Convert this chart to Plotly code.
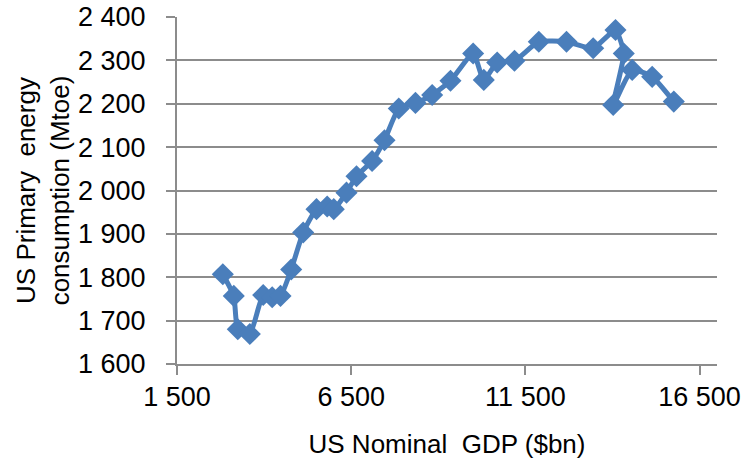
import plotly.graph_objects as go

# US nominal GDP ($bn) and primary energy consumption (Mtoe)
gdp = [2815, 3130, 3245, 3590, 3974, 4232, 4471, 4778, 5122, 5504, 5811, 6000,
       6365, 6652, 7100, 7456, 7866, 8345, 8824, 9350, 10001, 10306, 10690,
       11187, 11885, 12680, 13446, 14086, 14324, 14020, 14565, 15139, 15760]
energy = [1807, 1757, 1680, 1669, 1759, 1754, 1757, 1818, 1903, 1957, 1963, 1957,
          1995, 2033, 2068, 2116, 2189, 2202, 2220, 2253, 2316, 2255, 2295,
          2299, 2343, 2343, 2328, 2370, 2316, 2197, 2278, 2262, 2205]

x_ticks = [1500, 6500, 11500, 16500]
y_ticks = [1600, 1700, 1800, 1900, 2000, 2100, 2200, 2300, 2400]

color = "#4A7EBB"
grid = "#8C8C8C"
font = "Liberation Sans, Arial, sans-serif"

fig = go.Figure(go.Scatter(
    x=gdp, y=energy, mode="lines+markers",
    line=dict(color=color, width=5, shape="spline", smoothing=0.5),
    marker=dict(symbol="diamond", size=17, color=color),
    showlegend=False, cliponaxis=False,
))

fig.update_layout(
    width=748, height=459,
    margin=dict(l=177, r=31, t=17, b=95),
    paper_bgcolor="white", plot_bgcolor="white",
    separators=". ",
    font=dict(family=font, size=27, color="black"),
    xaxis=dict(
        range=[1500, 17000], tickvals=x_ticks, tickformat=",",
        automargin=False, ticklabeloverflow="allow",
        showgrid=False, zeroline=False,
        showline=True, linecolor=grid, linewidth=2,
        ticks="outside", ticklen=9, tickwidth=2, tickcolor=grid,
        ticklabelstandoff=-1,
        title=dict(text="US Nominal  GDP ($bn)", standoff=23,
                   font=dict(size=26)),
    ),
    yaxis=dict(
        range=[1600, 2400], tickvals=y_ticks, tickformat=",",
        automargin=False, ticklabeloverflow="allow",
        showgrid=True, gridcolor=grid, gridwidth=2, zeroline=False,
        showline=True, linecolor=grid, linewidth=2,
        ticks="outside", ticklen=9, tickwidth=2, tickcolor=grid,
        ticklabelstandoff=15,
        title=dict(text="US Primary  energy<br>consumption (Mtoe)", standoff=1,
                   font=dict(size=26)),
    ),
)

# remove the browser's default 8px page margin so the figure fills the window
fig.write_html("out.html", config={"displayModeBar": False},
               post_script="document.body.style.margin='0';")
